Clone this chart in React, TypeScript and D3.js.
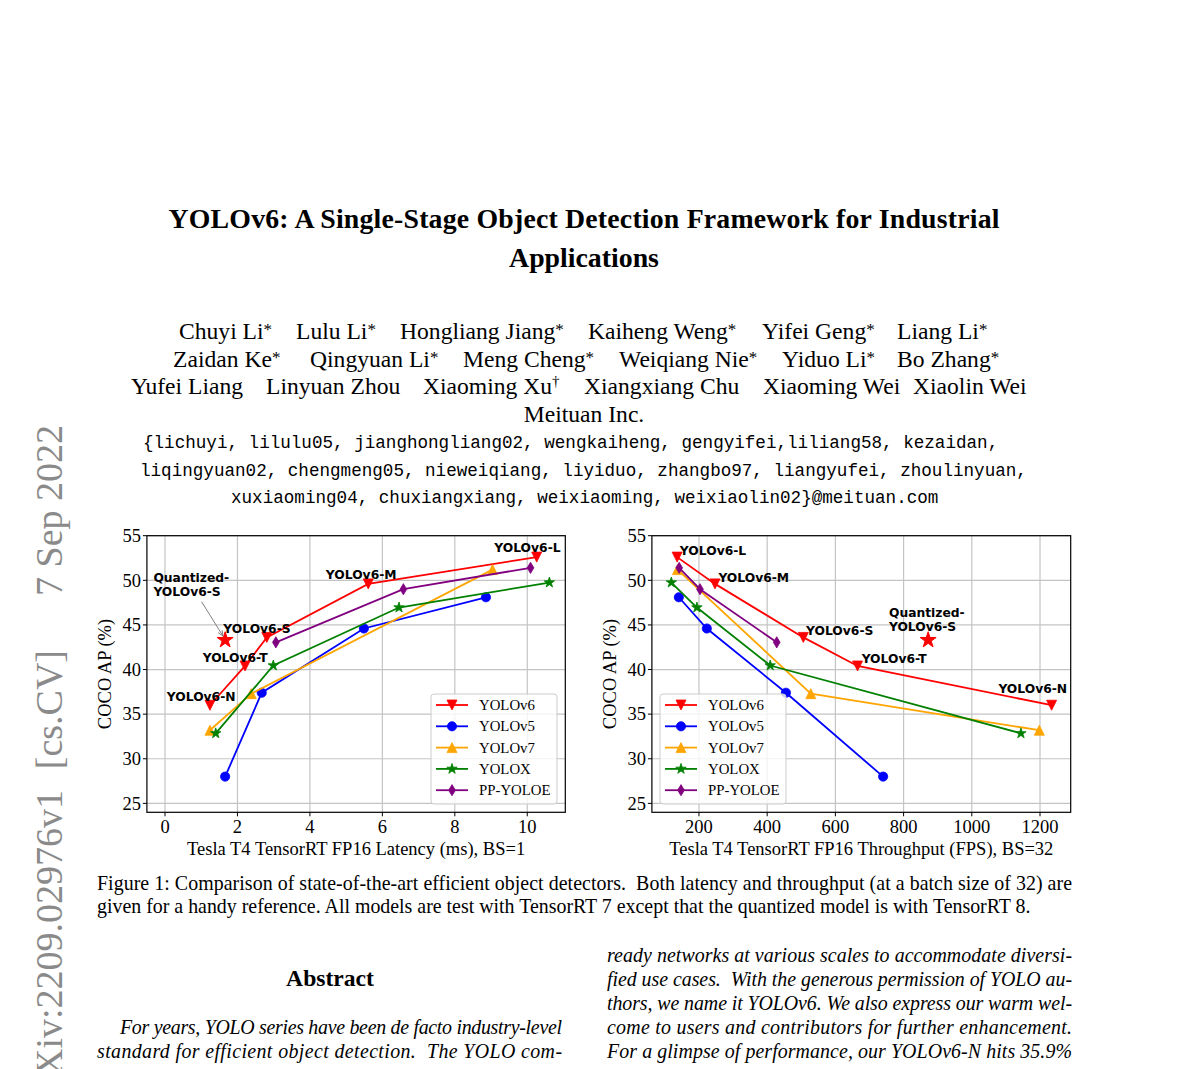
import React from 'react';
import * as d3 from 'd3';

// ---------------- data ----------------
const seriesNames = ['YOLOv6', 'YOLOv5', 'YOLOv7', 'YOLOX', 'PP-YOLOE'];
const seriesColors = ['#ff0000', '#0000ff', '#ffa500', '#008000', '#800080'];
const seriesMarkers = ['tridown', 'circle', 'triup', 'star', 'diamond'];

const yolov6Latency = [1.24, 2.21, 2.81, 5.61, 10.26];
const yolov6Fps = [1234, 665, 506, 247, 136];
const yolov6AP = [36.0, 40.4, 43.6, 49.6, 52.6];

const yolov5Latency = [1.66, 2.67, 5.49, 8.86];
const yolov5Fps = [740, 455, 223, 141];
const yolov5AP = [28.0, 37.4, 44.6, 48.1];

const yolov7Latency = [1.24, 2.38, 9.04];
const yolov7Fps = [1198, 528, 137];
const yolov7AP = [33.2, 37.3, 51.2];

const yoloxLatency = [1.4, 2.99, 6.46, 10.61];
const yoloxFps = [1144, 409, 194, 119];
const yoloxAP = [32.85, 40.45, 46.95, 49.75];

const ppyoloeLatency = [3.06, 6.58, 10.09];
const ppyoloeFps = [428, 203, 142];
const ppyoloeAP = [43.05, 49.0, 51.4];

const quantLatency = 1.66;
const quantFps = 872;
const quantAP = 43.3;

const yolov6Labels = ['YOLOv6-N', 'YOLOv6-T', 'YOLOv6-S', 'YOLOv6-M', 'YOLOv6-L'];
// annotation anchors in data coordinates (latency / fps, AP)
const latencyLabelX = [0.05, 1.04, 1.61, 4.44, 9.09];
const latencyLabelY = [36.5, 40.9, 44.13, 50.1, 53.14];
const fpsLabelX = [1078, 677, 514, 257, 144];
const fpsLabelY = [37.34, 40.7, 43.87, 49.84, 52.84];
const quantLabelLines = ['Quantized-', 'YOLOv6-S'];

const latencyTicks = [0, 2, 4, 6, 8, 10];
const fpsTicks = [200, 400, 600, 800, 1000, 1200];
const apTicks = [25, 30, 35, 40, 45, 50, 55];

const latencyLabel = 'Tesla T4 TensorRT FP16 Latency (ms), BS=1';
const fpsLabel = 'Tesla T4 TensorRT FP16 Throughput (FPS), BS=32';
const apLabel = 'COCO AP (%)';

// ---------------- helpers ----------------
const SERIF = '"Liberation Serif", "Times New Roman", serif';
const SANS = '"DejaVu Sans", sans-serif';
const MONO = '"Liberation Mono", "DejaVu Sans Mono", monospace';

function markerPath(type: string, s: number): string {
  switch (type) {
    case 'tridown':
      return `M${-s},${-s}L${s},${-s}L0,${s}Z`;
    case 'triup':
      return `M${-s},${s}L${s},${s}L0,${-s}Z`;
    case 'circle':
      return d3.symbol(d3.symbolCircle, Math.PI * s * s)() as string;
    case 'star':
      return d3.symbol(d3.symbolStar, (s * s) / 0.8908130915292852)() as string;
    case 'diamond':
      return `M0,${-s}L${s * 0.6},0L0,${s}L${-s * 0.6},0Z`;
    default:
      return '';
  }
}
const markerSize: Record<string, number> = { tridown: 5, triup: 5, circle: 4.6, star: 5.5, diamond: 5.6 };

const seriesList = [
  { lat: yolov6Latency, fps: yolov6Fps, ap: yolov6AP },
  { lat: yolov5Latency, fps: yolov5Fps, ap: yolov5AP },
  { lat: yolov7Latency, fps: yolov7Fps, ap: yolov7AP },
  { lat: yoloxLatency, fps: yoloxFps, ap: yoloxAP },
  { lat: ppyoloeLatency, fps: ppyoloeFps, ap: ppyoloeAP },
].map((s, i) => ({ ...s, name: seriesNames[i], color: seriesColors[i], marker: seriesMarkers[i] }));

type PanelProps = {
  xs: d3.ScaleLinear<number, number>;
  ys: d3.ScaleLinear<number, number>;
  xTicks: number[];
  xLabel: string;
  xKey: 'lat' | 'fps';
  labelX: number[];
  labelY: number[];
  quantX: number;
  quantLabelAt: [number, number];
  arrow?: [number, number, number, number];
  legendX: number;
  yLabelX: number;
};

function Panel(p: PanelProps) {
  const { xs, ys } = p;
  const [xl, xr] = xs.range();
  const [yb, yt] = ys.range();
  const line = d3
    .line<[number, number]>()
    .x((d) => xs(d[0]))
    .y((d) => ys(d[1]));
  const legendY = 694;
  const rowH = 21.3;
  return (
    <g>
      {/* grid */}
      {p.xTicks.map((t) => (
        <line key={'gx' + t} x1={xs(t)} x2={xs(t)} y1={yb} y2={yt} stroke="#c4c4c4" strokeWidth={1.2} />
      ))}
      {apTicks.map((t) => (
        <line key={'gy' + t} x1={xl} x2={xr} y1={ys(t)} y2={ys(t)} stroke="#c4c4c4" strokeWidth={1.2} />
      ))}
      {/* series */}
      {seriesList.map((s) => {
        const pts: [number, number][] = s.ap.map((a, i) => [s[p.xKey][i], a]);
        return (
          <g key={s.name}>
            <path d={line(pts) as string} fill="none" stroke={s.color} strokeWidth={1.8} />
            {pts.map((d, i) => (
              <path
                key={i}
                d={markerPath(s.marker, markerSize[s.marker])}
                transform={`translate(${xs(d[0])},${ys(d[1])})`}
                fill={s.color}
                stroke={s.color}
                strokeWidth={0.8}
              />
            ))}
          </g>
        );
      })}
      {/* quantized star */}
      <path
        d={markerPath('star', 8.4)}
        transform={`translate(${xs(p.quantX)},${ys(quantAP)})`}
        fill="#ff0000"
        stroke="#ff0000"
      />
      {p.arrow && (
        <g stroke="#808080" strokeWidth={1} fill="none">
          <line x1={xs(p.arrow[0])} y1={ys(p.arrow[1])} x2={xs(p.arrow[2])} y2={ys(p.arrow[3])} />
          {(() => {
            const x2 = xs(p.arrow[2]);
            const y2 = ys(p.arrow[3]);
            const ang = Math.atan2(y2 - ys(p.arrow[1]), x2 - xs(p.arrow[0]));
            const L = 6;
            const a1 = ang + Math.PI - 0.4;
            const a2 = ang + Math.PI + 0.4;
            return (
              <path d={`M${x2 + L * Math.cos(a1)},${y2 + L * Math.sin(a1)}L${x2},${y2}L${x2 + L * Math.cos(a2)},${y2 + L * Math.sin(a2)}`} />
            );
          })()}
        </g>
      )}
      {/* annotations */}
      {yolov6Labels.map((t, i) => (
        <text key={t} x={xs(p.labelX[i])} y={ys(p.labelY[i])} fontFamily={SANS} fontWeight="bold" fontSize={12.3} fill="#000">
          {t}
        </text>
      ))}
      {quantLabelLines.map((t, i) => (
        <text
          key={t}
          x={xs(p.quantLabelAt[0])}
          y={ys(p.quantLabelAt[1]) + i * 14.3}
          fontFamily={SANS}
          fontWeight="bold"
          fontSize={12.3}
          fill="#000"
        >
          {t}
        </text>
      ))}
      {/* spines */}
      <rect x={xl} y={yt} width={xr - xl} height={yb - yt} fill="none" stroke="#000" strokeWidth={1.2} />
      {/* ticks */}
      {p.xTicks.map((t) => (
        <g key={'tx' + t}>
          <line x1={xs(t)} x2={xs(t)} y1={yb} y2={yb + 4} stroke="#000" strokeWidth={1} />
          <text x={xs(t)} y={833} textAnchor="middle" fontFamily={SERIF} fontSize={18.5} fill="#000">
            {t}
          </text>
        </g>
      ))}
      {apTicks.map((t) => (
        <g key={'ty' + t}>
          <line x1={xl - 4} x2={xl} y1={ys(t)} y2={ys(t)} stroke="#000" strokeWidth={1} />
          <text x={xl - 6} y={ys(t)} dy="0.34em" textAnchor="end" fontFamily={SERIF} fontSize={18.5} fill="#000">
            {t}
          </text>
        </g>
      ))}
      <text x={(xl + xr) / 2} y={855} textAnchor="middle" fontFamily={SERIF} fontSize={18.5} fill="#000">
        {p.xLabel}
      </text>
      <text
        transform={`translate(${p.yLabelX},${(yb + yt) / 2}) rotate(-90)`}
        textAnchor="middle"
        fontFamily={SERIF}
        fontSize={18.5}
        fill="#000"
      >
        {apLabel}
      </text>
      {/* legend */}
      <rect x={p.legendX} y={legendY} width={126} height={110} rx={3} fill="#fff" fillOpacity={0.8} stroke="#cccccc" strokeWidth={1} />
      {seriesList.map((s, i) => {
        const cy = legendY + 11 + i * rowH;
        return (
          <g key={'lg' + s.name}>
            <line x1={p.legendX + 5} x2={p.legendX + 37} y1={cy} y2={cy} stroke={s.color} strokeWidth={1.8} />
            <path d={markerPath(s.marker, markerSize[s.marker])} transform={`translate(${p.legendX + 21},${cy})`} fill={s.color} stroke={s.color} strokeWidth={0.8} />
            <text x={p.legendX + 48} y={cy} dy="0.34em" fontFamily={SERIF} fontSize={14.8} fill="#000">
              {s.name}
            </text>
          </g>
        );
      })}
    </g>
  );
}

// page text
const authorRows: { name: string; mark: string; x: number }[][] = [
  [
    { name: 'Chuyi Li', mark: '*', x: 179 },
    { name: 'Lulu Li', mark: '*', x: 296 },
    { name: 'Hongliang Jiang', mark: '*', x: 400 },
    { name: 'Kaiheng Weng', mark: '*', x: 588 },
    { name: 'Yifei Geng', mark: '*', x: 762 },
    { name: 'Liang Li', mark: '*', x: 897 },
  ],
  [
    { name: 'Zaidan Ke', mark: '*', x: 173 },
    { name: 'Qingyuan Li', mark: '*', x: 310 },
    { name: 'Meng Cheng', mark: '*', x: 463 },
    { name: 'Weiqiang Nie', mark: '*', x: 619 },
    { name: 'Yiduo Li', mark: '*', x: 782 },
    { name: 'Bo Zhang', mark: '*', x: 897 },
  ],
  [
    { name: 'Yufei Liang', mark: '', x: 131 },
    { name: 'Linyuan Zhou', mark: '', x: 266 },
    { name: 'Xiaoming Xu', mark: '†', x: 423 },
    { name: 'Xiangxiang Chu', mark: '', x: 584 },
    { name: 'Xiaoming Wei', mark: '', x: 763 },
    { name: 'Xiaolin Wei', mark: '', x: 913 },
  ],
];
const authorBaselines = [339, 366.5, 394];

const emailLines = [
  '{lichuyi, lilulu05, jianghongliang02, wengkaiheng, gengyifei,liliang58, kezaidan,',
  'liqingyuan02, chengmeng05, nieweiqiang, liyiduo, zhangbo97, liangyufei, zhoulinyuan,',
  'xuxiaoming04, chuxiangxiang, weixiaoming, weixiaolin02}@meituan.com',
];
const emailX = [143, 140, 231];

const captionLines = [
  'Figure 1: Comparison of state-of-the-art efficient object detectors.  Both latency and throughput (at a batch size of 32) are',
  'given for a handy reference. All models are test with TensorRT 7 except that the quantized model is with TensorRT 8.',
];
const rightColLines = [
  'ready networks at various scales to accommodate diversi-',
  'fied use cases.  With the generous permission of YOLO au-',
  'thors, we name it YOLOv6. We also express our warm wel-',
  'come to users and contributors for further enhancement.',
  'For a glimpse of performance, our YOLOv6-N hits 35.9%',
];
const leftColLines = [
  'For years, YOLO series have been de facto industry-level',
  'standard for efficient object detection.  The YOLO com-',
];

export default function App() {
  const yScale = d3.scaleLinear().domain([24, 55]).range([812.3, 535.7]);
  const latScale = d3.scaleLinear().domain([-0.5, 11.05]).range([146.9, 565.3]);
  const fpsScale = d3.scaleLinear().domain([62, 1290]).range([651.9, 1070.7]);

  return (
    <svg width={1200} height={1069} style={{ position: 'absolute', left: 0, top: 0, background: '#fff' }}>
      <rect width={1200} height={1069} fill="#fff" />
      {/* arXiv stamp */}
      <g fill="#8a8a8a" fontFamily={SERIF} fontSize={38}>
        <text transform="translate(62,425) rotate(-90)" textAnchor="end">7 Sep 2022</text>
        <text transform="translate(62,650) rotate(-90)" textAnchor="end">[cs.CV]</text>
        <text transform="translate(62,790) rotate(-90)" textAnchor="end">arXiv:2209.02976v1</text>
      </g>

      {/* title */}
      <text x={584} y={228} textAnchor="middle" fontFamily={SERIF} fontWeight="bold" fontSize={27.8} textLength={831} lengthAdjust="spacing">
        YOLOv6: A Single-Stage Object Detection Framework for Industrial
      </text>
      <text x={584} y={266.5} textAnchor="middle" fontFamily={SERIF} fontWeight="bold" fontSize={27.8}>
        Applications
      </text>

      {/* authors */}
      {authorRows.map((row, r) =>
        row.map((a) => (
          <text key={a.name + r} x={a.x} y={authorBaselines[r]} fontFamily={SERIF} fontSize={23.6} fill="#000">
            {a.name}
            {a.mark && (
              <tspan dy={a.mark === '*' ? -4 : -8} fontSize={a.mark === '*' ? 17 : 15}>
                {a.mark}
              </tspan>
            )}
          </text>
        ))
      )}
      <text x={584} y={421.5} textAnchor="middle" fontFamily={SERIF} fontSize={23.6}>
        Meituan Inc.
      </text>

      {/* emails */}
      {emailLines.map((l, i) => (
        <text key={i} x={emailX[i]} y={448 + i * 27.5} fontFamily={MONO} fontSize={17.6} style={{ whiteSpace: 'pre' }}>
          {l}
        </text>
      ))}

      {/* charts */}
      <Panel
        xs={latScale}
        ys={yScale}
        xTicks={latencyTicks}
        xLabel={latencyLabel}
        xKey="lat"
        labelX={latencyLabelX}
        labelY={latencyLabelY}
        quantX={quantLatency}
        quantLabelAt={[-0.32, 49.84]}
        arrow={[1.01, 47.6, 1.6, 43.75]}
        legendX={431}
        yLabelX={111}
      />
      <Panel
        xs={fpsScale}
        ys={yScale}
        xTicks={fpsTicks}
        xLabel={fpsLabel}
        xKey="fps"
        labelX={fpsLabelX}
        labelY={fpsLabelY}
        quantX={quantFps}
        quantLabelAt={[757, 45.92]}
        legendX={660}
        yLabelX={616}
      />

      {/* caption */}
      <text x={97} y={889.5} fontFamily={SERIF} fontSize={19.9} textLength={975} lengthAdjust="spacing" style={{ whiteSpace: 'pre' }}>
        {captionLines[0]}
      </text>
      <text x={97} y={912.5} fontFamily={SERIF} fontSize={19.9} style={{ whiteSpace: 'pre' }}>
        {captionLines[1]}
      </text>

      {/* abstract */}
      <text x={330} y={986} textAnchor="middle" fontFamily={SERIF} fontWeight="bold" fontSize={23.6}>
        Abstract
      </text>
      {leftColLines.map((l, i) => (
        <text
          key={'lc' + i}
          x={i === 0 ? 120 : 97}
          y={1033.5 + i * 24}
          fontFamily={SERIF}
          fontStyle="italic"
          fontSize={19.9}
          textLength={i === 0 ? 442 : 465}
          lengthAdjust="spacing"
          style={{ whiteSpace: 'pre' }}
        >
          {l}
        </text>
      ))}
      {rightColLines.map((l, i) => (
        <text
          key={'rc' + i}
          x={607}
          y={961.5 + i * 24}
          fontFamily={SERIF}
          fontStyle="italic"
          fontSize={19.9}
          textLength={465}
          lengthAdjust="spacing"
          style={{ whiteSpace: 'pre' }}
        >
          {l}
        </text>
      ))}
    </svg>
  );
}
